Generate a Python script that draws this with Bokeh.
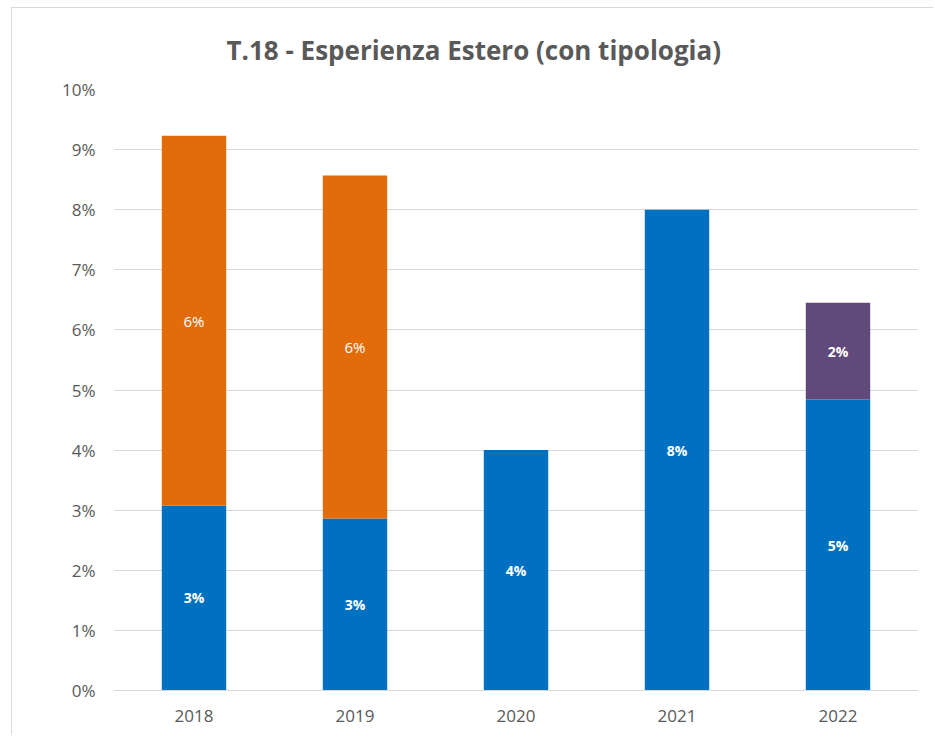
from bokeh.plotting import figure
from bokeh.models import ColumnDataSource, FactorRange, Range1d, FixedTicker, PrintfTickFormatter
from bokeh.core.properties import value
from bokeh.embed import file_html
from bokeh.resources import INLINE

years = ["2018", "2019", "2020", "2021", "2022"]
blue = [3.08, 2.86, 4.0, 8.0, 4.84]
orange = [6.15, 5.71, 0.0, 0.0, 0.0]
purple = [0.0, 0.0, 0.0, 0.0, 1.61]
y_ticks = [0, 1, 2, 3, 4, 5, 6, 7, 8, 9, 10]
title_text = "T.18 - Esperienza Estero (con tipologia)"

BLUE = "#0070C0"
ORANGE = "#E36C0A"
PURPLE = "#604A7B"
GRID = "#D9D9D9"
TXT = "#595959"

src = ColumnDataSource(dict(years=years, blue=blue, orange=orange, purple=purple))

p = figure(x_range=FactorRange(*years, range_padding=0), y_range=Range1d(0, 10),
           width=922, height=728, output_backend="svg", toolbar_location=None,
           min_border_left=101, min_border_right=16, min_border_top=81, min_border_bottom=46)
p.styles = {"border-left": "1px solid #D9D9D9", "border-top": "1px solid #D9D9D9",
            "margin-left": "11px", "margin-top": "7px"}

p.vbar_stack(["blue", "orange", "purple"], x="years", width=0.4, source=src,
             color=[BLUE, ORANGE, PURPLE], line_color=None)

def lab(xs, ys, texts, bold):
    p.text(x=xs, y=ys, text=texts, text_color="white", text_align="center",
           text_baseline="middle", text_font=value("Open Sans"),
           text_font_size="14px" if bold else "15px",
           text_font_style="bold" if bold else "normal")

bx, by, bt = [], [], []
ox, oy, ot = [], [], []
px_, py_, pt_ = [], [], []
for yr, b, o, pu in zip(years, blue, orange, purple):
    if b > 0:
        bx.append(yr); by.append(b / 2); bt.append(f"{round(b)}%")
    if o > 0:
        ox.append(yr); oy.append(b + o / 2); ot.append(f"{round(o)}%")
    if pu > 0:
        px_.append(yr); py_.append(b + o + pu / 2); pt_.append(f"{round(pu)}%")
lab(bx, by, bt, True)
lab(ox, oy, ot, False)
lab(px_, py_, pt_, True)

p.title.text = title_text
p.title.align = "left"
p.title.offset = 113
p.title.standoff = 43
p.title.text_font = "Open Sans"
p.title.text_font_size = "26px"
p.title.text_font_style = "bold"
p.title.text_color = TXT

p.xgrid.grid_line_color = None
p.ygrid.grid_line_color = GRID
p.ygrid.ticker = FixedTicker(ticks=y_ticks)
p.yaxis.ticker = FixedTicker(ticks=y_ticks)
p.yaxis.formatter = PrintfTickFormatter(format="%d%%")
for ax in (p.xaxis, p.yaxis):
    ax.axis_line_color = None
    ax.major_tick_line_color = None
    ax.major_tick_out = 0
    ax.major_tick_in = 0
    ax.minor_tick_line_color = None
    ax.major_label_text_font = "Open Sans"
    ax.major_label_text_font_size = "17px"
    ax.major_label_text_color = TXT
p.xaxis.axis_line_color = GRID
p.yaxis.major_label_standoff = 18
p.xaxis.major_label_standoff = 19
p.outline_line_color = None

open("out.html", "w").write(file_html(p, INLINE))
